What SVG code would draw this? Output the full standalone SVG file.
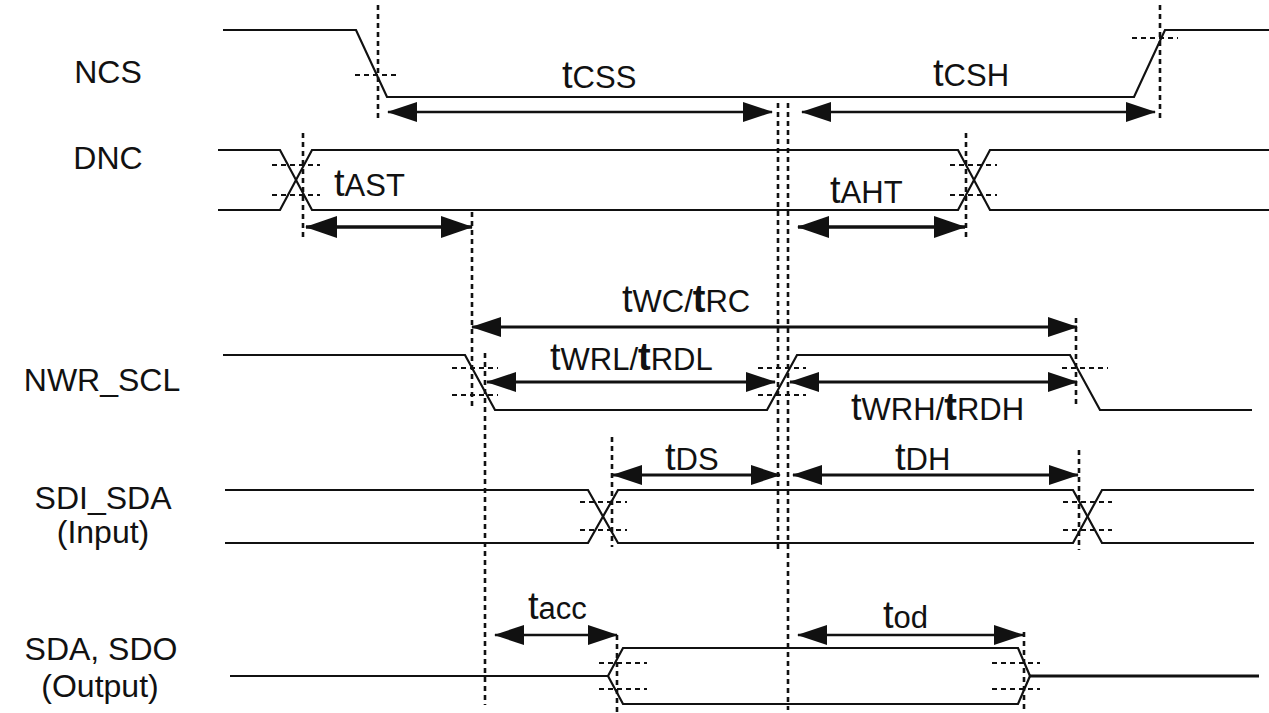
<svg xmlns="http://www.w3.org/2000/svg" width="1269" height="713" viewBox="0 0 1269 713">
<defs>
<marker id="ah" viewBox="0 0 30 20" markerWidth="30" markerHeight="20" refX="29" refY="10" orient="auto-start-reverse" markerUnits="userSpaceOnUse">
<path d="M0,0 L30,10 L0,20 z" fill="#111"/>
</marker>
<marker id="ahb" viewBox="0 0 32 22" markerWidth="32" markerHeight="22" refX="31" refY="11" orient="auto-start-reverse" markerUnits="userSpaceOnUse">
<path d="M0,0 L32,11 L0,22 z" fill="#111"/>
</marker>
</defs>
<style>
.sig{fill:none;stroke:#111;stroke-width:2.2;stroke-linejoin:miter}
.vd{fill:none;stroke:#111;stroke-width:2.6;stroke-dasharray:5 4}
.hd{fill:none;stroke:#111;stroke-width:1.9;stroke-dasharray:5 4}
.arr{fill:none;stroke:#111;stroke-width:2.4;marker-start:url(#ah);marker-end:url(#ah)}
.arrb{fill:none;stroke:#111;stroke-width:3.4;marker-start:url(#ahb);marker-end:url(#ahb)}
.lbl{font-family:"Liberation Sans",Arial,sans-serif;font-size:32px;fill:#111;text-anchor:middle}
.tl{font-family:"Liberation Sans",Arial,sans-serif;fill:#111}
.T{font-size:38px}
.TB{font-size:38px;font-weight:bold}
.s{font-size:31px}
</style>
<rect width="1269" height="713" fill="#fff"/>

<g id="labels">
<text class="lbl" x="108" y="83">NCS</text>
<text class="lbl" x="108" y="169">DNC</text>
<text class="lbl" x="102" y="391">NWR_SCL</text>
<text class="lbl" x="103" y="509">SDI_SDA</text>
<text class="lbl" x="103" y="543">(Input)</text>
<text class="lbl" x="101" y="660">SDA, SDO</text>
<text class="lbl" x="100" y="697">(Output)</text>
</g>

<g id="ncs">
<polyline class="sig" points="223,30 356,30 387,97 1134,97 1165,30 1269,30"/>
</g>
<g id="dnc">
<polyline class="sig" points="218,150 280,150 312,210 958,210 990,150 1269,150"/>
<polyline class="sig" points="218,210 280,210 312,150 958,150 990,210 1269,210"/>
</g>
<g id="nwr_scl">
<polyline class="sig" points="223,355 465,355 495,410 767,410 797,355 1070,355 1100,410 1252,410"/>
</g>
<g id="sdi_sda">
<polyline class="sig" points="225,490 588,490 618,543 1073,543 1102,490 1254,490"/>
<polyline class="sig" points="225,543 588,543 618,490 1073,490 1102,543 1254,543"/>
</g>
<g id="sda_sdo">
<polyline class="sig" points="230,676 608,676 623,648 1018,648 1030,676"/>
<polyline class="sig" points="608,676 623,704 1018,704 1030,676"/>
<polyline class="sig" style="stroke-width:3" points="1030,676 1259,676"/>
</g>

<g id="guides">
<line class="vd" x1="378" y1="5" x2="378" y2="120"/>
<line class="vd" x1="1160" y1="5" x2="1160" y2="120"/>
<line class="vd" x1="778" y1="103" x2="778" y2="550"/>
<line class="vd" x1="788" y1="103" x2="788" y2="710"/>
<line class="vd" x1="303" y1="133" x2="303" y2="237"/>
<line class="vd" x1="966" y1="133" x2="966" y2="237"/>
<line class="vd" x1="472" y1="212" x2="472" y2="410"/>
<line class="vd" x1="485" y1="353" x2="485" y2="705"/>
<line class="vd" x1="1076" y1="318" x2="1076" y2="407"/>
<line class="vd" x1="612" y1="437" x2="612" y2="547"/>
<line class="vd" x1="1079" y1="450" x2="1079" y2="550"/>
<line class="vd" x1="617" y1="635" x2="617" y2="713"/>
<line class="vd" x1="1024" y1="632" x2="1024" y2="711"/>

<line class="hd" x1="355" y1="75" x2="400" y2="75"/>
<line class="hd" x1="1132" y1="38" x2="1178" y2="38"/>
<line class="hd" x1="272" y1="165" x2="320" y2="165"/>
<line class="hd" x1="272" y1="195" x2="320" y2="195"/>
<line class="hd" x1="950" y1="165" x2="997" y2="165"/>
<line class="hd" x1="950" y1="195" x2="997" y2="195"/>
<line class="hd" x1="452" y1="368" x2="498" y2="368"/>
<line class="hd" x1="452" y1="395" x2="498" y2="395"/>
<line class="hd" x1="758" y1="368" x2="806" y2="368"/>
<line class="hd" x1="758" y1="395" x2="806" y2="395"/>
<line class="hd" x1="1062" y1="368" x2="1108" y2="368"/>
<line class="hd" x1="580" y1="502" x2="627" y2="502"/>
<line class="hd" x1="580" y1="530" x2="627" y2="530"/>
<line class="hd" x1="1063" y1="502" x2="1112" y2="502"/>
<line class="hd" x1="1063" y1="530" x2="1112" y2="530"/>
<line class="hd" x1="599" y1="663" x2="647" y2="663"/>
<line class="hd" x1="599" y1="689" x2="647" y2="689"/>
<line class="hd" x1="992" y1="663" x2="1040" y2="663"/>
<line class="hd" x1="992" y1="689" x2="1040" y2="689"/>
</g>

<g id="connectors">
<line class="arr" x1="388" y1="112" x2="772" y2="112"/>
<line class="arr" x1="802" y1="112" x2="1155" y2="112"/>
<line class="arrb" x1="306" y1="227" x2="472" y2="227"/>
<line class="arrb" x1="798" y1="227" x2="965" y2="227"/>
<line class="arr" style="stroke-width:3" x1="472" y1="327" x2="1077" y2="327"/>
<line class="arr" style="stroke-width:3" x1="487" y1="382" x2="775" y2="382"/>
<line class="arr" style="stroke-width:3" x1="790" y1="382" x2="1077" y2="382"/>
<line class="arr" style="stroke-width:3" x1="613" y1="475" x2="780" y2="475"/>
<line class="arr" style="stroke-width:3" x1="793" y1="475" x2="1078" y2="475"/>
<line class="arr" x1="495" y1="635" x2="617" y2="635"/>
<line class="arr" x1="798" y1="635" x2="1023" y2="635"/>
</g>

<g id="timing-labels">
<text class="tl" x="562" y="88"><tspan class="T">t</tspan><tspan class="s">CSS</tspan></text>
<text class="tl" x="933" y="86"><tspan class="T">t</tspan><tspan class="s">CSH</tspan></text>
<text class="tl" x="334" y="196"><tspan class="T">t</tspan><tspan class="s">AST</tspan></text>
<text class="tl" x="830" y="203"><tspan class="T">t</tspan><tspan class="s">AHT</tspan></text>
<text class="tl" x="622" y="312"><tspan class="T">t</tspan><tspan class="s">WC/</tspan><tspan class="TB">t</tspan><tspan class="s">RC</tspan></text>
<text class="tl" x="550" y="370"><tspan class="T">t</tspan><tspan class="s">WRL/</tspan><tspan class="TB">t</tspan><tspan class="s">RDL</tspan></text>
<text class="tl" x="851" y="420"><tspan class="T">t</tspan><tspan class="s">WRH/</tspan><tspan class="TB">t</tspan><tspan class="s">RDH</tspan></text>
<text class="tl" x="665" y="470"><tspan class="T">t</tspan><tspan class="s">DS</tspan></text>
<text class="tl" x="895" y="470"><tspan class="T">t</tspan><tspan class="s">DH</tspan></text>
<text class="tl" x="528" y="619"><tspan class="T">t</tspan><tspan class="s">acc</tspan></text>
<text class="tl" x="883" y="628"><tspan class="T">t</tspan><tspan class="s">od</tspan></text>
</g>
</svg>
